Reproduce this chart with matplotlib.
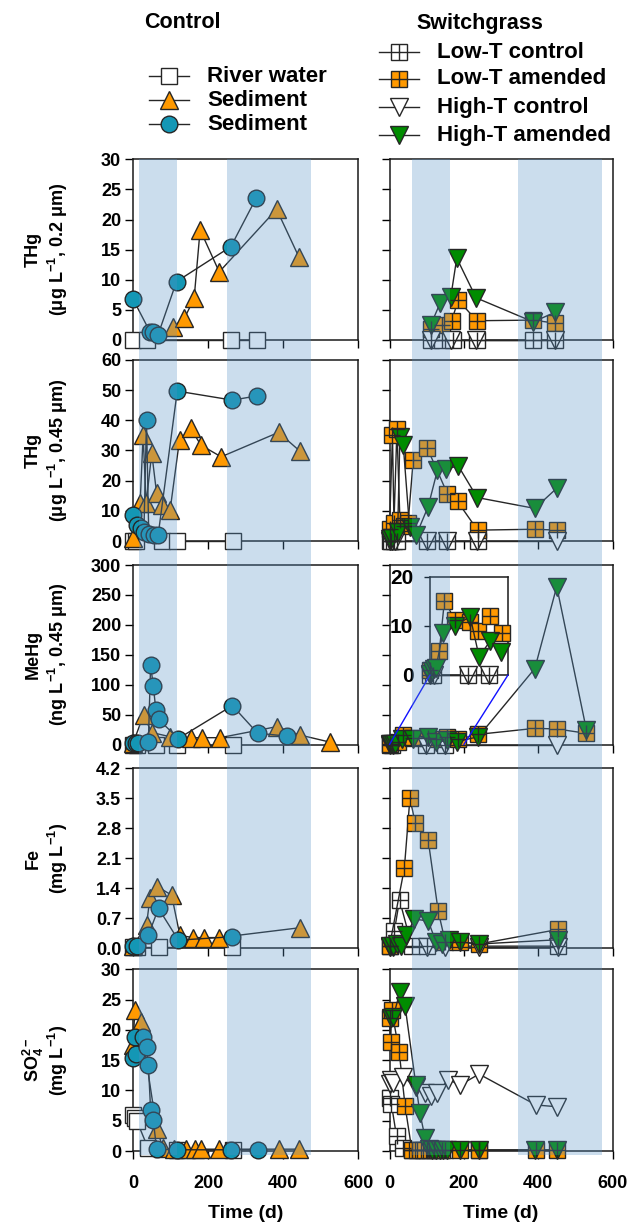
import matplotlib
matplotlib.use("Agg")
import matplotlib.pyplot as plt
from matplotlib.lines import Line2D
from matplotlib.patches import Rectangle, ConnectionPatch
from matplotlib.transforms import blended_transform_factory

# ---------------- data (time in days) ----------------
# THg, 0.2 um filtered (ug/L)
thg02_river_t = [0, 37, 261, 330]
thg02_river_y = [0, 0, 0, 0]
thg02_tri_t = [107, 137, 163, 179, 230, 383, 443]
thg02_tri_y = [2.2, 3.6, 6.9, 18.3, 11.3, 21.7, 13.7]
thg02_circ_t = [0, 45, 54, 67, 116, 261, 328]
thg02_circ_y = [6.8, 1.4, 1.4, 0.9, 9.7, 15.5, 23.5]
thg02_ltc_t = [113, 140, 170, 235, 387, 445]
thg02_ltc_y = [0, 0, 0, 0, 0, 0]
thg02_lta_t = [113, 140, 167, 185, 235, 387, 445]
thg02_lta_y = [1.9, 2.5, 3.2, 6.6, 3.2, 3.3, 2.8]
thg02_htc_t = [111, 165, 233, 445]
thg02_htc_y = [0, 0, 0, 0]
thg02_hta_t = [111, 136, 165, 181, 233, 387, 445]
thg02_hta_y = [2.5, 6.1, 7.2, 13.6, 7.0, 3.0, 4.6]

# THg, 0.45 um filtered (ug/L)
thg045_river_t = [0, 7, 76, 118, 266]
thg045_river_y = [0, 0, 0, 0, 0]
thg045_tri_t = [0, 19, 27, 35, 50, 63, 76, 99, 124, 154, 181, 235, 388, 445]
thg045_tri_y = [1.0, 12.5, 35.1, 12.5, 29.1, 15.8, 11.9, 10.3, 33.5, 37.3, 31.8, 27.9, 36.0, 29.8]
thg045_circ_t = [0, 11, 20, 29, 36, 42, 56, 67, 118, 265, 331]
thg045_circ_y = [8.6, 5.3, 4.2, 2.9, 40.1, 2.3, 2.1, 1.9, 49.7, 46.7, 48.1]
thg045_ltc_t = [0, 5, 12, 20, 100, 156, 237]
thg045_ltc_y = [0, 0, 0, 0, 0, 0, 0]
thg045_lta_t = [0, 8, 12, 20, 28, 40, 50, 64, 102, 156, 183, 237, 391, 450]
thg045_lta_y = [4, 35, 6, 37, 7, 5, 6, 27, 30.7, 15.6, 13.1, 3.6, 3.9, 3.6]
thg045_htc_t = [0, 7, 15, 100, 156, 235, 450]
thg045_htc_y = [0, 0, 0, 0, 0, 0, 0]
thg045_hta_t = [0, 7, 22, 28, 37, 54, 72, 104, 129, 151, 185, 236, 391, 450]
thg045_hta_y = [0.5, 1, 3, 34.6, 31.8, 4.5, 2, 11.4, 23.5, 23.8, 24.9, 14.4, 10.8, 17.5]

# MeHg, 0.45 um filtered (ng/L)
mehg_river_t = [0, 10, 62, 118, 267]
mehg_river_y = [0, 0, 0, 0, 0]
mehg_tri_t = [0, 28, 50, 99, 154, 183, 232, 383, 445, 525]
mehg_tri_y = [2, 49, 20, 13, 11.4, 11.4, 11.4, 29.8, 15.9, 4]
mehg_circ_t = [0, 8, 14, 41, 47, 54, 61, 68, 121, 265, 332, 410]
mehg_circ_y = [2, 2, 3, 5, 133, 98, 58, 42, 10, 65, 19, 14]
mehg_ltc_t = [0, 8, 98, 150]
mehg_ltc_y = [0, 0, 0, 0]
mehg_lta_t = [0, 24, 37, 64, 103, 124, 154, 184, 239, 391, 450, 530]
mehg_lta_y = [1.0, 4.9, 15.1, 11.2, 10.8, 9.0, 12.0, 8.5, 17, 27, 26, 18.7]
mehg_htc_t = [0, 10, 98, 150, 450]
mehg_htc_y = [0, 0, 0, 0, 0]
mehg_hta_t = [0, 5, 10, 15, 33, 64, 103, 126, 154, 181, 239, 391, 450, 530]
mehg_hta_y = [0.3, 0.8, 1.2, 1.4, 8.5, 10, 11.9, 3.7, 6.9, 4.7, 13, 127, 264, 24]

# Fe (mg/L)
fe_river_t = [0, 10, 70, 265]
fe_river_y = [0.03, 0.03, 0.03, 0.03]
fe_tri_t = [0, 36, 45, 65, 103, 125, 160, 190, 230, 445]
fe_tri_y = [0.05, 0.54, 1.17, 1.44, 1.24, 0.3, 0.25, 0.25, 0.25, 0.48]
fe_circ_t = [0, 10, 41, 68, 121, 265]
fe_circ_y = [0.05, 0.05, 0.31, 0.93, 0.19, 0.27]
fe_ltc_t = [0, 13, 27, 60, 100, 454]
fe_ltc_y = [0.05, 0.4, 1.13, 0.05, 0.05, 0.05]
fe_lta_t = [0, 40, 55, 69, 104, 131, 150, 190, 240, 454]
fe_lta_y = [0.05, 1.87, 3.51, 2.93, 2.53, 0.87, 0.15, 0.15, 0.1, 0.44]
fe_htc_t = [0, 10, 100, 150, 240, 454]
fe_htc_y = [0.03, 0.03, 0.03, 0.03, 0.03, 0.03]
fe_hta_t = [0, 10, 20, 30, 45, 67, 104, 125, 140, 160, 190, 240, 454]
fe_hta_y = [0.05, 0.05, 0.1, 0.05, 0.3, 0.68, 0.64, 0.15, 0.1, 0.2, 0.15, 0.1, 0.2]

# Sulfate (mg/L)
so4_river_t = [0, 5, 10, 40, 118, 267]
so4_river_y = [6.0, 5.5, 5.0, 0.5, 0.2, 0.2]
so4_tri_t = [0, 5, 20, 63, 80, 110, 140, 164, 181, 228, 388, 443]
so4_tri_y = [17.5, 23.3, 21.3, 3.7, 0.5, 0.3, 0.3, 0.3, 0.3, 0.3, 0.3, 0.3]
so4_circ_t = [0, 4, 7, 27, 36, 41, 47, 54, 63, 118, 260, 333]
so4_circ_y = [15.3, 18.8, 16, 18.9, 17.2, 14.2, 6.8, 5.1, 0.3, 0.2, 0.2, 0.2]
so4_ltc_t = [0, 5, 19, 35, 60, 100, 150, 240]
so4_ltc_y = [8.7, 7.8, 2.4, 0.5, 0.1, 0.1, 0.1, 0.1]
so4_lta_t = [0, 3, 6, 26, 42, 60, 75, 90, 105, 120, 140, 190, 241, 394, 452]
so4_lta_y = [22, 18, 23.3, 16.4, 7.4, 0.2, 0.2, 0.2, 0.2, 0.2, 0.2, 0.2, 0.2, 0.2, 0.2]
so4_htc_t = [0, 5, 10, 37, 70, 96, 112, 127, 158, 190, 241, 394, 452]
so4_htc_y = [11, 11.8, 11.2, 12.3, 10.5, 9.5, 9.0, 9.5, 11.8, 10.9, 12.7, 7.6, 7.3]
so4_hta_t = [3, 10, 28, 42, 71, 82, 96, 105, 115, 125, 135, 145, 155, 190, 240, 391, 450]
so4_hta_y = [22, 22.1, 26.3, 23.9, 10.9, 6.2, 2.1, 0.3, 0.2, 0.2, 0.1, 0.1, 0.1, 0.1, 0.1, 0.1, 0.1]

# shaded periods (days)
control_periods = [(16, 118), (251, 474)]
switchgrass_periods = [(60, 163), (346, 573)]

# axis settings per row
row_ymax = [30, 60, 300, 4.2, 30]
row_yticks = [[0, 5, 10, 15, 20, 25, 30],
              [0, 10, 20, 30, 40, 50, 60],
              [0, 50, 100, 150, 200, 250, 300],
              [0.0, 0.7, 1.4, 2.1, 2.8, 3.5, 4.2],
              [0, 5, 10, 15, 20, 25, 30]]
row_yticklabels = [None, None, None,
                   ["0.0", "0.7", "1.4", "2.1", "2.8", "3.5", "4.2"], None]
row_label1 = ["THg", "THg", "MeHg", "Fe", "SO$_4^{2-}$"]
row_label2 = ["(\u03bcg L$^{-1}$, 0.2 \u03bcm)", "(\u03bcg L$^{-1}$, 0.45 \u03bcm)",
              "(ng L$^{-1}$, 0.45 \u03bcm)", "(mg L$^{-1}$)", "(mg L$^{-1}$)"]

# ---------------- styling ----------------
plt.rcParams['font.family'] = ['Liberation Sans', 'DejaVu Sans']
plt.rcParams['font.weight'] = 'bold'
plt.rcParams['mathtext.fontset'] = 'custom'
plt.rcParams['mathtext.rm'] = 'Liberation Sans:bold'
plt.rcParams['mathtext.it'] = 'Liberation Sans:bold:italic'
plt.rcParams['mathtext.bf'] = 'Liberation Sans:bold'
plt.rcParams['mathtext.default'] = 'rm'

EDGE = '#262626'
ORANGE = '#FF9900'
TEAL = '#1497B5'
GREEN = '#008C00'
BAND = (85 / 255, 145 / 255, 198 / 255)

STYLES = {
    'river': dict(marker='s', ms=11, mfc='white', plus=False),
    'tri': dict(marker='^', ms=12.5, mfc=ORANGE, plus=False),
    'circ': dict(marker='o', ms=12, mfc=TEAL, plus=False),
    'ltc': dict(marker='s', ms=11, mfc='white', plus=True),
    'lta': dict(marker='s', ms=11, mfc=ORANGE, plus=True),
    'htc': dict(marker='v', ms=12.5, mfc='white', plus=False),
    'hta': dict(marker='v', ms=12.5, mfc=GREEN, plus=False),
}

W, H = 639, 1228
fig = plt.figure(figsize=(W / 100, H / 100), dpi=100)


def px_axes(x0, x1, top, bottom):
    return fig.add_axes([x0 / W, 1 - bottom / H, (x1 - x0) / W, (bottom - top) / H])


def draw(ax, t, y, kind, z=3):
    s = STYLES[kind]
    ax.plot(t, y, color=EDGE, lw=1, marker=s['marker'], ms=s['ms'], mfc=s['mfc'],
            mec=EDGE, mew=1, clip_on=False, zorder=z)
    if s['plus']:
        ax.plot(t, y, ls='none', marker='+', ms=s['ms'], mec=EDGE, mew=1,
                clip_on=False, zorder=z + 0.01)


left_series = [
    [(thg02_river_t, thg02_river_y), (thg02_tri_t, thg02_tri_y), (thg02_circ_t, thg02_circ_y)],
    [(thg045_river_t, thg045_river_y), (thg045_tri_t, thg045_tri_y), (thg045_circ_t, thg045_circ_y)],
    [(mehg_river_t, mehg_river_y), (mehg_tri_t, mehg_tri_y), (mehg_circ_t, mehg_circ_y)],
    [(fe_river_t, fe_river_y), (fe_tri_t, fe_tri_y), (fe_circ_t, fe_circ_y)],
    [(so4_river_t, so4_river_y), (so4_tri_t, so4_tri_y), (so4_circ_t, so4_circ_y)],
]
right_series = [
    [(thg02_ltc_t, thg02_ltc_y), (thg02_lta_t, thg02_lta_y), (thg02_htc_t, thg02_htc_y), (thg02_hta_t, thg02_hta_y)],
    [(thg045_ltc_t, thg045_ltc_y), (thg045_lta_t, thg045_lta_y), (thg045_htc_t, thg045_htc_y), (thg045_hta_t, thg045_hta_y)],
    [(mehg_ltc_t, mehg_ltc_y), (mehg_lta_t, mehg_lta_y), (mehg_htc_t, mehg_htc_y), (mehg_hta_t, mehg_hta_y)],
    [(fe_ltc_t, fe_ltc_y), (fe_lta_t, fe_lta_y), (fe_htc_t, fe_htc_y), (fe_hta_t, fe_hta_y)],
    [(so4_ltc_t, so4_ltc_y), (so4_lta_t, so4_lta_y), (so4_htc_t, so4_htc_y), (so4_hta_t, so4_hta_y)],
]

ROWS = [(159.3, 340), (360, 541), (565, 744.5), (768.3, 948.3), (969.3, 1151)]
LEFT_X = (133, 358)
RIGHT_X = (389.5, 612.5)
TICK_FS = 13

axes_left, axes_right = [], []
for r, (top, bot) in enumerate(ROWS):
    for col, (x0, x1) in enumerate([LEFT_X, RIGHT_X]):
        ax = px_axes(x0, x1, top, bot)
        ax.set_xlim(0, 600)
        ax.set_ylim(0, row_ymax[r])
        ax.set_xticks([0, 200, 400, 600])
        ax.set_yticks(row_yticks[r])
        if row_yticklabels[r] is not None:
            ax.set_yticklabels(row_yticklabels[r])
        ax.tick_params(direction='out', length=6, width=1, labelsize=TICK_FS,
                       colors='black')
        ax.tick_params(axis='x', labelbottom=(r == 4), pad=11)
        ax.tick_params(axis='y', pad=2.5)
        if col == 1:
            ax.tick_params(axis='y', labelleft=False)
        for sp in ax.spines.values():
            sp.set_linewidth(1.1)
            sp.set_color('#1a1a1a')
        ax.patch.set_alpha(0)
        if col == 0:
            kinds = ['river', 'tri', 'circ']
            for (t, y), k in zip(left_series[r], kinds):
                draw(ax, t, y, k)
            axes_left.append(ax)
        else:
            kinds = ['ltc', 'lta', 'htc', 'hta']
            for (t, y), k in zip(right_series[r], kinds):
                draw(ax, t, y, k)
            axes_right.append(ax)

    cy = 1 - (top + bot) / 2 / H
    fig.text(33 / W, cy, row_label1[r], rotation=90, ha='center', va='center',
             fontsize=13, fontweight='bold')
    fig.text(58 / W, cy, row_label2[r], rotation=90, ha='center', va='center',
             fontsize=13, fontweight='bold')

# inset of the first 200 days of MeHg (switchgrass)
ax_main = axes_right[2]
ins = px_axes(430, 508, 576.7, 675)
ins.set_zorder(5)
ins.set_facecolor('white')
ins.set_xlim(0, 200)
ins.set_ylim(0, 20)
ins.set_xticks([])
ins.set_yticks([0, 10, 20])
ins.tick_params(direction='out', length=4, width=1, labelsize=15, pad=8)
for sp in ins.spines.values():
    sp.set_linewidth(1.1)
    sp.set_color('#1a1a1a')
for (t, y), k in zip(right_series[2], ['ltc', 'lta', 'htc', 'hta']):
    sel = [(a, b) for a, b in zip(t, y) if a <= 200]
    draw(ins, [a for a, _ in sel], [b for _, b in sel], k)
for xa in (0, 200):
    con = ConnectionPatch(xyA=(xa, 0), coordsA=ax_main.transData,
                          xyB=(xa, 0), coordsB=ins.transData,
                          color='#1010ff', lw=1, zorder=6)
    fig.add_artist(con)

# shaded periods over both columns
band_top = 1 - 159.3 / H
band_bot = 1 - 1155 / H
for ax, periods in [(axes_left[0], control_periods), (axes_right[0], switchgrass_periods)]:
    tr = blended_transform_factory(ax.transData, fig.transFigure)
    for a, b in periods:
        fig.add_artist(Rectangle((a, band_bot), b - a, band_top - band_bot,
                                 transform=tr, facecolor=BAND, alpha=0.3,
                                 edgecolor='none', zorder=20))

# x axis titles
for x0, x1 in [LEFT_X, RIGHT_X]:
    fig.text((x0 + x1) / 2 / W, 1 - 1213 / H, "Time (d)", ha='center', va='center',
             fontsize=14, fontweight='bold')

# column titles
fig.text(182 / W, 1 - 23 / H, "Control", ha='center', va='center', fontsize=15.5,
         fontweight='bold')
fig.text(480 / W, 1 - 23 / H, "Switchgrass", ha='center', va='center', fontsize=15.5,
         fontweight='bold')


def legend_entry(xc, yc, kind, label, half=20, tx=None):
    s = STYLES[kind]
    fx = lambda p: p / W
    fy = 1 - yc / H
    ln = Line2D([fx(xc - half), fx(xc), fx(xc + half)], [fy, fy, fy],
                transform=fig.transFigure, color=EDGE, lw=1, marker=s['marker'],
                ms=s['ms'], mfc=s['mfc'], mec=EDGE, mew=1, markevery=[1])
    fig.add_artist(ln)
    if s['plus']:
        fig.add_artist(Line2D([fx(xc)], [fy], transform=fig.transFigure, ls='none',
                              marker='+', ms=s['ms'], mec=EDGE, mew=1))
    fig.text(fx(tx), fy, label, ha='left', va='center', fontsize=16,
             fontweight='bold')


legend_entry(169, 76, 'river', "River water", tx=207)
legend_entry(169, 100, 'tri', "Sediment", tx=207)
legend_entry(169, 124, 'circ', "Sediment", tx=207)

legend_entry(399, 52, 'ltc', "Low-T control", tx=437)
legend_entry(399, 79, 'lta', "Low-T amended", tx=437)
legend_entry(399, 107, 'htc', "High-T control", tx=437)
legend_entry(399, 135, 'hta', "High-T amended", tx=437)

fig.savefig("out.png", dpi=100)
